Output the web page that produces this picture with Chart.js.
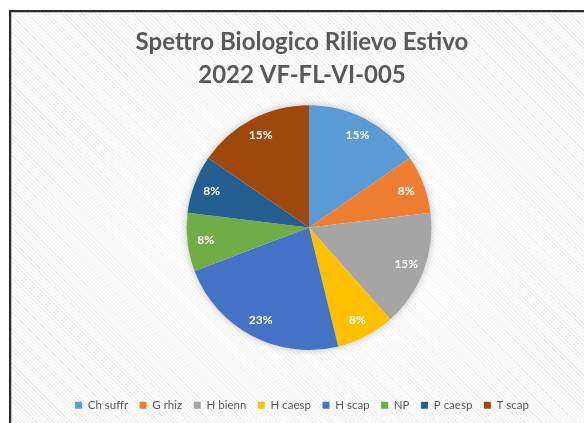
<!DOCTYPE html>
<html><head><meta charset="utf-8">
<script src="https://cdn.jsdelivr.net/npm/chart.js@4"></script>
<style>
html,body{margin:0;padding:0;width:584px;height:423px;overflow:hidden;background:#fff;}
#frame{position:absolute;left:9px;top:10px;width:620px;height:460px;border-left:2px solid #2b2b2b;border-top:2px solid #2b2b2b;box-shadow:inset 1px 1px 0 #c4c4c4;
background:radial-gradient(ellipse 330px 240px at 300px 217px, rgba(255,255,255,0.85), rgba(255,255,255,0) 100%),repeating-linear-gradient(45deg,#ffffff 0 2px,#ededed 2px 3px);}
#c{position:absolute;left:0;top:0;}
</style></head>
<body>
<div id="frame"></div>
<canvas id="c" width="584" height="423"></canvas>
<script>
const titleLines = ['Spettro Biologico Rilievo Estivo', '2022 VF-FL-VI-005'];
const categories = ['Ch suffr', 'G rhiz', 'H bienn', 'H caesp', 'H scap', 'NP', 'P caesp', 'T scap'];
const counts = [2, 1, 2, 1, 3, 1, 1, 2];
const colors = ['#5B9BD5', '#ED7D31', '#A5A5A5', '#FFC000', '#4472C4', '#70AD47', '#255E91', '#9E480E'];

const total = counts.reduce((a, b) => a + b, 0);
const pctLabels = counts.map(v => Math.round(v / total * 100) + '%');

// shift the plot area (pie) a little right of the title/legend centre, as in the reference
const areaShift = {
  id: 'areaShift',
  afterLayout(chart) {
    chart.chartArea.left += 7;
    chart.chartArea.right += 7;
  }
};

const shadowPlugin = {
  id: 'pieShadow',
  beforeDatasetsDraw(chart) {
    const arc = chart.getDatasetMeta(0).data[0];
    if (!arc) return;
    const {x, y, outerRadius} = arc.getProps(['x', 'y', 'outerRadius'], true);
    const ctx = chart.ctx;
    ctx.save();
    ctx.shadowColor = 'rgba(0,0,0,0.28)';
    ctx.shadowBlur = 9;
    ctx.fillStyle = '#ffffff';
    ctx.beginPath();
    ctx.arc(x, y, outerRadius - 0.5, 0, Math.PI * 2);
    ctx.fill();
    ctx.restore();
  }
};

const labelPlugin = {
  id: 'sliceLabels',
  afterDatasetsDraw(chart) {
    const ctx = chart.ctx;
    ctx.save();
    ctx.font = 'bold 12px Lato';
    ctx.fillStyle = '#ffffff';
    ctx.textAlign = 'center';
    ctx.textBaseline = 'middle';
    chart.getDatasetMeta(0).data.forEach((arc, i) => {
      const {x, y, startAngle, endAngle, outerRadius} = arc.getProps(['x', 'y', 'startAngle', 'endAngle', 'outerRadius'], true);
      const a = (startAngle + endAngle) / 2;
      const r = outerRadius * 0.85;
      ctx.fillText(pctLabels[i], x + Math.cos(a) * r, y + Math.sin(a) * r);
    });
    ctx.restore();
  }
};

new Chart(document.getElementById('c'), {
  type: 'pie',
  data: {
    labels: categories,
    datasets: [{ data: counts, backgroundColor: colors, borderWidth: 0 }]
  },
  options: {
    responsive: false,
    animation: false,
    events: [],
    layout: { padding: { left: 20, right: 0, top: 0, bottom: 2 } },
    plugins: {
      tooltip: { enabled: false },
      title: {
        display: true,
        text: titleLines,
        color: '#595959',
        font: { family: 'Lato', size: 24, weight: 'bold', lineHeight: 1.38 },
        padding: { top: 26, bottom: 13 }
      },
      legend: {
        position: 'bottom',
        title: { display: true, text: ' ', font: { size: 10, lineHeight: 1 }, padding: { top: 28, bottom: 0 } },
        labels: {
          boxWidth: 7, boxHeight: 7, padding: 11.5,
          color: '#595959',
          font: { family: 'Lato', size: 11.5 }
        }
      }
    }
  },
  plugins: [areaShift, shadowPlugin, labelPlugin]
});
</script>
</body></html>
